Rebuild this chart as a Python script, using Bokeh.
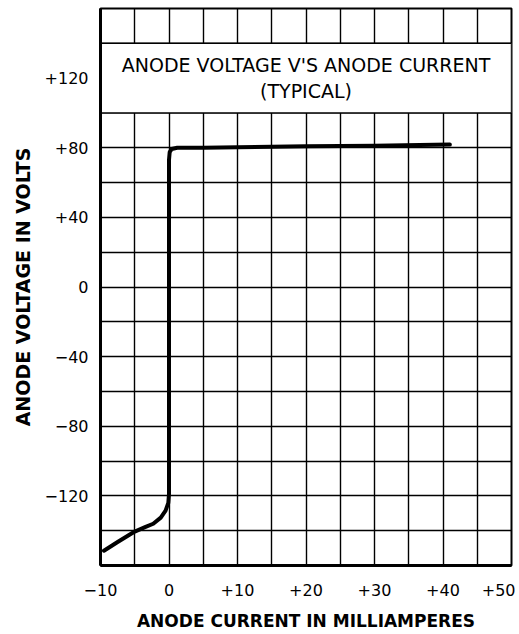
from bokeh.plotting import figure
from bokeh.models import Range1d, FixedTicker, Label
from bokeh.embed import file_html
from bokeh.resources import INLINE

# Data
curve_current = [-9.5, -7.5, -5.0, -3.5, -2.3, -1.2, -0.5, -0.1, 0.0, 0.0, 0.1, 0.4, 1.2, 5.0, 10.0, 20.0, 30.0, 41.0]
curve_voltage = [-151.5, -146.5, -140.5, -138.0, -136.0, -132.5, -128.5, -124.0, -119.0, 73.0, 77.5, 79.3, 80.0, 80.0, 80.3, 80.8, 81.2, 81.8]

x_ticks = [-10, 0, 10, 20, 30, 40, 50]
x_tick_labels = ["\u221210", "0", "+10", "+20", "+30", "+40", "+50"]
y_ticks = [-120, -80, -40, 0, 40, 80, 120]
y_tick_labels = ["\u2212120", "\u221280", "\u221240", "0", "+40", "+80", "+120"]

x_grid = [-10, -5, 0, 5, 10, 15, 20, 25, 30, 35, 40, 45, 50]
y_grid = [-160, -140, -120, -100, -80, -60, -40, -20, 0, 20, 40, 60, 80, 100, 120, 140, 160]

title_lines = ["ANODE VOLTAGE V'S ANODE CURRENT", "(TYPICAL)"]
title_box = dict(left=-10, right=50, bottom=100, top=140)

p = figure(frame_width=411, frame_height=557,
           x_range=Range1d(-10, 50), y_range=Range1d(-160, 160),
           output_backend="svg", toolbar_location=None,
           min_border_left=100, min_border_right=4, min_border_top=8, min_border_bottom=40)
p.background_fill_color = "white"
p.border_fill_color = "white"
p.outline_line_color = "black"
p.outline_line_width = 2

p.xaxis.ticker = FixedTicker(ticks=x_ticks)
p.yaxis.ticker = FixedTicker(ticks=y_ticks)
p.xaxis.major_label_overrides = {t: l for t, l in zip(x_ticks, x_tick_labels)}
p.yaxis.major_label_overrides = {t: l for t, l in zip(y_ticks, y_tick_labels)}
p.xgrid.ticker = FixedTicker(ticks=x_grid)
p.ygrid.ticker = FixedTicker(ticks=y_grid)
for g in (p.xgrid, p.ygrid):
    g.grid_line_color = "black"
    g.grid_line_width = 1.4
    g.grid_line_alpha = 1.0

for ax in (p.xaxis, p.yaxis):
    ax.major_tick_line_color = None
    ax.minor_tick_line_color = None
    ax.axis_line_color = "black"
    ax.axis_line_width = 3
    ax.major_label_text_font = "DejaVu Sans"
    ax.major_label_text_font_size = "16px"
    ax.major_label_text_color = "black"
    ax.axis_label_text_font = "DejaVu Sans"
    ax.axis_label_text_font_style = "bold"
    ax.axis_label_text_color = "black"

p.xaxis.major_label_standoff = 12
p.yaxis.major_label_standoff = 6
p.xaxis.axis_label = "ANODE CURRENT IN MILLIAMPERES"
p.xaxis.axis_label_text_font_size = "17px"
p.xaxis.axis_label_standoff = 12
p.yaxis.axis_label = "ANODE VOLTAGE IN VOLTS"
p.yaxis.axis_label_text_font_size = "19px"
p.yaxis.axis_label_standoff = 8

# Title box
p.quad(left=[title_box["left"]], right=[title_box["right"]],
       bottom=[title_box["bottom"]], top=[title_box["top"]],
       fill_color="white", line_color="black", line_width=1.4)
p.add_layout(Label(x=20, y=127.5, text=title_lines[0], text_align="center",
                   text_baseline="middle", text_font="DejaVu Sans",
                   text_font_size="19px", text_color="black"))
p.add_layout(Label(x=20, y=112.5, text=title_lines[1], text_align="center",
                   text_baseline="middle", text_font="DejaVu Sans",
                   text_font_size="19px", text_color="black"))

# Curve
p.line(curve_current, curve_voltage, line_color="black", line_width=4,
       line_join="round", line_cap="round")

open("out.html", "w").write(file_html(p, INLINE))
